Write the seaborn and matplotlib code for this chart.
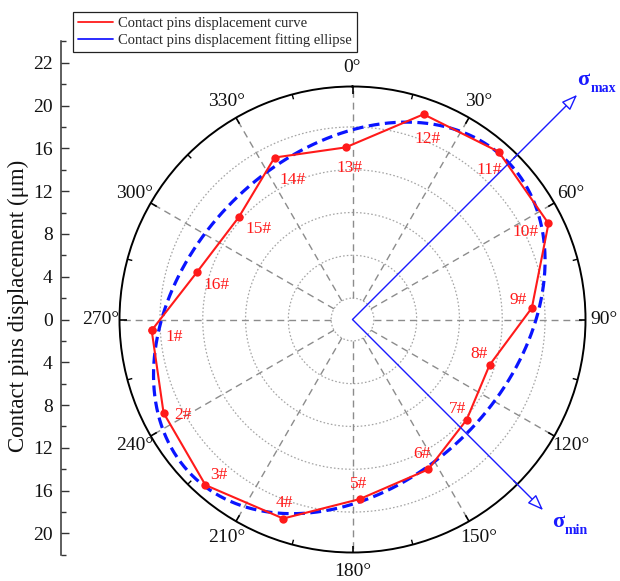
import numpy as np
import pandas as pd
import matplotlib
matplotlib.use("Agg")
import matplotlib.pyplot as plt
from matplotlib.lines import Line2D
import seaborn as sns

# ---------------- data ----------------
pins = ["1#", "2#", "3#", "4#", "5#", "6#", "7#", "8#",
        "9#", "10#", "11#", "12#", "13#", "14#", "15#", "16#"]
pin_angle_deg = [266.9, 243.7, 221.6, 199.2, 177.7, 153.2, 131.3, 108.4,
                 86.3, 63.9, 41.1, 19.1, 357.7, 334.3, 312.0, 286.9]
pin_disp = [18.8, 19.7, 20.7, 19.7, 16.8, 15.7, 14.2, 13.5,
            16.8, 20.4, 20.8, 20.3, 16.1, 16.8, 14.3, 15.2]

ellipse_semi_major = 20.8
ellipse_semi_minor = 15.4
ellipse_major_dir_deg = 45.0
ellipse_center_east = -0.3
ellipse_center_north = 0.15

sigma_max_dir_deg = 45.0
sigma_max_len = 29.7
sigma_min_dir_deg = 135.0
sigma_min_len = 25.2

angle_ticks_deg = [0, 30, 60, 90, 120, 150, 180, 210, 240, 270, 300, 330]
angle_tick_labels = ["0°", "30°", "60°", "90°", "120°", "150°",
                     "180°", "210°", "240°", "270°", "300°", "330°"]
angle_minor_deg = [15, 45, 75, 105, 135, 165, 195, 225, 255, 285, 315, 345]
grid_radii = [2, 6, 10, 14, 18]
r_outer = 21.78

left_tick_pos = [24, 20, 16, 12, 8, 4, 0, -4, -8, -12, -16, -20]
left_tick_labels = ["22", "20", "16", "12", "8", "4", "0", "4", "8", "12", "16", "20"]
left_minor_pos = [26, 22, 18, 14, 10, 6, 2, -2, -6, -10, -14, -18, -22]

legend_labels = ["Contact pins displacement curve",
                 "Contact pins displacement fitting ellipse"]
ylabel_text = "Contact pins displacement (μm)"

# label offsets of pin names (pixels, right / down)
label_off = [(23, 5), (19, 0), (13, -12), (1, -18), (-1, -17), (-6, -17),
             (-9, -13), (-10, -13), (-14, -10), (-23, 7), (-10, 16),
             (4, 23), (4, 19), (18, 20), (20, 10), (20, 11)]

# ---------------- style ----------------
sns.set_theme(style="white")
plt.rcParams["font.family"] = ["Liberation Serif", "DejaVu Serif"]

W, H = 620, 581
fig = plt.figure(figsize=(W / 100, H / 100), dpi=100)
fig.patch.set_facecolor("white")

CX, CY, R = 352.5, 319.5, 233.0
ax = fig.add_axes([(CX - R) / W, (H - CY - R) / H, 2 * R / W, 2 * R / H],
                  projection="polar")
ax.set_theta_zero_location("N")
ax.set_theta_direction(-1)
ax.set_facecolor("white")
ax.grid(False)
S = R / r_outer

# grid: dotted circles
tt = np.linspace(0, 2 * np.pi, 721)
for rr in grid_radii:
    ax.plot(tt, np.full_like(tt, rr), color="#a5a5a5", lw=0.9,
            dashes=(1.3, 1.7), zorder=1)
# grid: dashed spokes
for a in angle_ticks_deg:
    th = np.deg2rad(a)
    ax.plot([th, th], [grid_radii[0], r_outer], color="#8c8c8c", lw=1.0,
            dashes=(5, 3.5), zorder=1)

# theta tick marks on the outer circle (inward)
for a in angle_ticks_deg:
    th = np.deg2rad(a)
    ax.plot([th, th], [r_outer - 7 / S, r_outer], color="black", lw=1.2,
            solid_capstyle="butt", zorder=2, clip_on=False)
for a in angle_minor_deg:
    th = np.deg2rad(a)
    ax.plot([th, th], [r_outer - 5 / S, r_outer], color="black", lw=1.0,
            solid_capstyle="butt", zorder=2, clip_on=False)

# fitted ellipse
t = np.linspace(0, 2 * np.pi, 721)
phi = np.deg2rad(ellipse_major_dir_deg)
u = ellipse_semi_major * np.cos(t)
v = ellipse_semi_minor * np.sin(t)
east = ellipse_center_east + u * np.sin(phi) + v * np.sin(phi + np.pi / 2)
north = ellipse_center_north + u * np.cos(phi) + v * np.cos(phi + np.pi / 2)
ell = pd.DataFrame({"theta": np.mod(np.arctan2(east, north), 2 * np.pi),
                    "r": np.hypot(east, north)})
sns.lineplot(data=ell, x="theta", y="r", sort=False, estimator=None, ax=ax,
             color="#0a14ff", lw=2.3, legend=False, zorder=3)
ax.lines[-1].set_dashes((3.4, 1.7))

# pin displacement curve (closed)
df = pd.DataFrame({"theta": np.deg2rad(pin_angle_deg + pin_angle_deg[:1]),
                   "r": pin_disp + pin_disp[:1]})
sns.lineplot(data=df, x="theta", y="r", sort=False, estimator=None, ax=ax,
             color="#ff1a1a", lw=1.5, marker="o", markersize=6,
             markeredgewidth=0, legend=False, zorder=4)

for name, a, r, (dx, dy) in zip(pins, pin_angle_deg, pin_disp, label_off):
    ax.annotate(name, xy=(np.deg2rad(a), r), xytext=(dx, -dy),
                textcoords="offset pixels", ha="center", va="center_baseline",
                color="#ff1a1a", fontsize=12.5, zorder=5)

# principal stress arrows
for d, L in [(sigma_max_dir_deg, sigma_max_len), (sigma_min_dir_deg, sigma_min_len)]:
    ax.annotate("", xy=(np.deg2rad(d), L), xytext=(0, 0),
                xycoords="data", textcoords="data", annotation_clip=False,
                arrowprops=dict(arrowstyle="-|>,head_length=0.8,head_width=0.3",
                                ec="#1a1aff", fc="white", lw=1.0,
                                shrinkA=0, shrinkB=0, mutation_scale=12),
                zorder=6)

ax.set_ylim(0, r_outer)
ax.set_xlabel("")
ax.set_ylabel("")
ax.set_yticks([])
ax.set_xticks([])
ax.spines["polar"].set_linewidth(1.4)
ax.spines["polar"].set_color("black")

for a, lab in zip(angle_ticks_deg, angle_tick_labels):
    ax.text(np.deg2rad(a), 23.55, lab, ha="center", va="center",
            fontsize=14, color="#111111", clip_on=False)

# sigma labels
def ftxt(x, y, s, **kw):
    fig.text(x / W, 1 - y / H, s, **kw)

ftxt(583.5, 85, "σ", ha="center", va="baseline", fontsize=16,
     fontweight="bold", color="#1a1aff")
ftxt(603, 92.5, "max", ha="center", va="baseline", fontsize=10,
     fontweight="bold", color="#1a1aff")
ftxt(558.5, 527, "σ", ha="center", va="baseline", fontsize=16,
     fontweight="bold", color="#1a1aff")
ftxt(576.5, 534, "min", ha="center", va="baseline", fontsize=10,
     fontweight="bold", color="#1a1aff")

# left linear scale
y_lo, y_hi = -22, 26
px_lo = CY - y_lo * S
px_hi = CY - y_hi * S
lax = fig.add_axes([61 / W, (H - px_lo) / H, 0.05, (px_lo - px_hi) / H])
lax.set_ylim(y_lo, y_hi)
lax.set_xlim(0, 1)
lax.patch.set_alpha(0)
for s in ["top", "right", "bottom"]:
    lax.spines[s].set_visible(False)
lax.spines["left"].set_color("#333333")
lax.spines["left"].set_linewidth(1.1)
lax.set_xticks([])
lax.set_yticks(left_tick_pos)
lax.set_yticklabels(left_tick_labels)
lax.set_yticks(left_minor_pos, minor=True)
lax.tick_params(axis="y", which="major", direction="in", length=5.5, width=1,
                colors="#333333", labelsize=14, labelcolor="#111111", pad=6,
                left=True)
lax.tick_params(axis="y", which="minor", direction="in", length=3.5, width=1,
                colors="#333333", left=True)

ftxt(18, 306, ylabel_text, rotation=90, ha="center", va="center",
     fontsize=16.5, color="#111111")

# legend
handles = [Line2D([], [], color="#ff1a1a", lw=1.3),
           Line2D([], [], color="#1a1aff", lw=1.3)]
leg = fig.legend(handles, legend_labels, loc="upper left",
                 bbox_to_anchor=(73 / W, 1 - 12 / H), frameon=True,
                 fancybox=False, edgecolor="#222222", framealpha=1,
                 fontsize=10.5, handlelength=2.4, handletextpad=0.35,
                 borderpad=0.35, labelspacing=0.2, borderaxespad=0)
leg.get_frame().set_linewidth(0.9)

fig.savefig("out.png", dpi=100, facecolor="white")
